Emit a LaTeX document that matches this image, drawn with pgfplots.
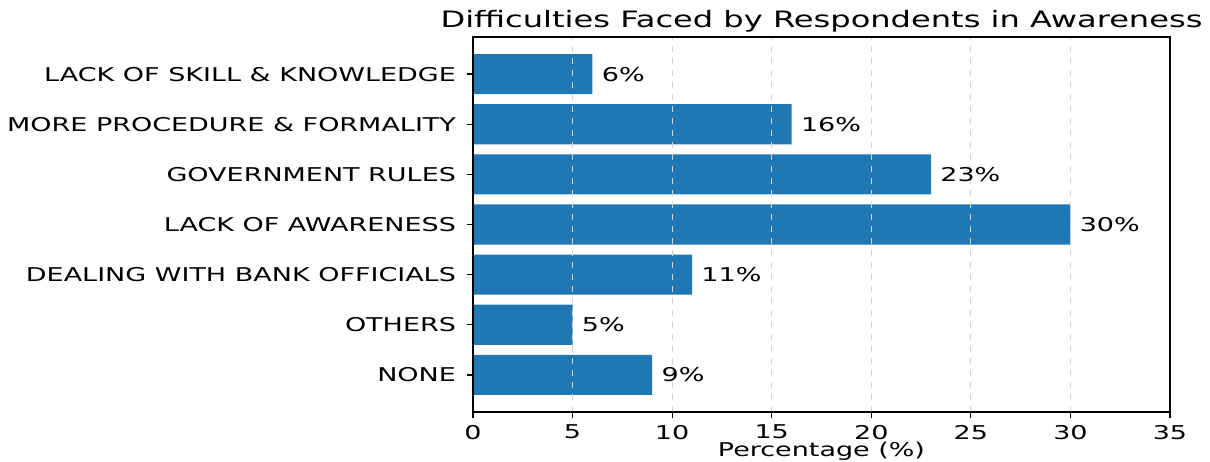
\documentclass[border=0pt]{standalone}
\usepackage{fontspec}
\setmainfont{DejaVu Sans}[FakeStretch=1.42]
\usepackage{pgfplots}
\pgfplotsset{compat=1.18}
\definecolor{barblue}{HTML}{1F77B4}
\begin{document}
\begin{tikzpicture}
\begin{axis}[
  at={(0,0)}, anchor=south west,
  scale only axis, width=348.5pt, height=187.5pt,
  xbar, bar width=0.8,
  xmin=0, xmax=35, ymin=-0.74, ymax=6.74,
  xtick={0,5,...,35},
  ytick={0,...,6},
  yticklabels={NONE,OTHERS,DEALING WITH BANK OFFICIALS,LACK OF AWARENESS,GOVERNMENT RULES,MORE PROCEDURE \& FORMALITY,LACK OF SKILL \& KNOWLEDGE},
  tick align=outside, tick pos=left,
  major tick length=3pt,
  axis on top,
  xmajorgrids, grid style={dashed, gray!35, line width=0.4pt},
  axis line style={black, line width=0.6pt},
  tick style={black, line width=0.6pt},
  ticklabel style={font=\fontsize{9.5}{11}\selectfont},
  yticklabel style={xshift=-2pt},
  /pgf/number format/assume math mode=true,
  title={Difficulties Faced by Respondents in Awareness},
  title style={font=\fontsize{11.3}{13}\selectfont, yshift=-7pt},
  xlabel={Percentage (\%)},
  xlabel style={font=\fontsize{9.5}{11}\selectfont, yshift=5.5pt},
  nodes near coords={\pgfmathprintnumber{\pgfplotspointmeta}\%},
  nodes near coords style={anchor=west, inner sep=0pt, xshift=4.5pt, font=\fontsize{9.5}{11}\selectfont},
  point meta=explicit,
]
\addplot[fill=barblue, draw=none] coordinates {
  (9,0) [9]
  (5,1) [5]
  (11,2) [11]
  (30,3) [30]
  (23,4) [23]
  (16,5) [16]
  (6,6) [6]
};
\end{axis}
\pgfresetboundingbox
\path (-236.5pt,-24.5pt) rectangle (368.5pt,206pt);
\end{tikzpicture}
\end{document}
